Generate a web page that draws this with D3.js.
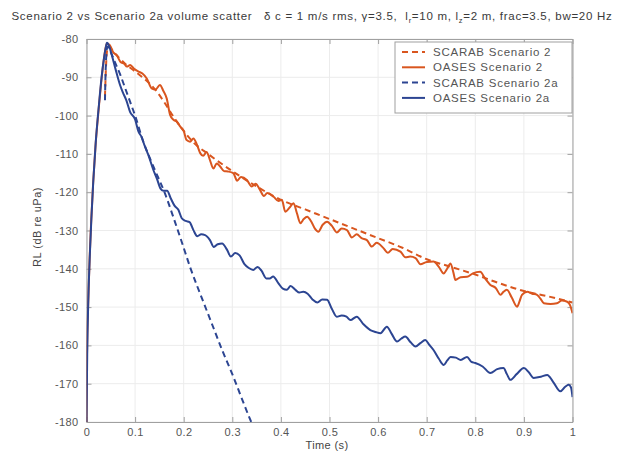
<!DOCTYPE html>
<html><head><meta charset="utf-8">
<script src="https://cdn.jsdelivr.net/npm/d3@7"></script>
<style>body{margin:0;background:#fff}svg{display:block}text{font-family:"Liberation Sans",Arial,Helvetica,sans-serif}</style>
</head><body><svg id="c" width="623" height="454"></svg>
<script>
const xTicks=[0,0.1,0.2,0.3,0.4,0.5,0.6,0.7,0.8,0.9,1];
const yTicks=[-80,-90,-100,-110,-120,-130,-140,-150,-160,-170,-180];
const seriesNames=["SCARAB Scenario 2","OASES Scenario 2","SCARAB Scenario 2a","OASES Scenario 2a"];

const oases2=[[0,-180],[0.001,-163],[0.0035,-149],[0.0065,-137],[0.0095,-128],[0.0135,-118],[0.0185,-108],[0.0245,-99],[0.0305,-91],[0.0355,-85.5],[0.0395,-82.2],[0.042,-81.2],
[0.048,-81.6],[0.055,-83.5],[0.062,-84.2],[0.07,-86],[0.078,-86.5],[0.083,-87.2],[0.09,-86.8],[0.098,-87.8],[0.107,-88.5],[0.115,-89],[0.124,-90.3],[0.134,-92.9],[0.142,-93.2],[0.151,-92],[0.158,-93.5],[0.165,-95.5],[0.172,-99.8],[0.179,-101.1],[0.186,-101.6],[0.193,-102.9],[0.2,-104],[0.206,-106.4],[0.213,-106.8],[0.22,-106],[0.227,-107.5],[0.234,-109.8],[0.24,-110.5],[0.247,-109.5],[0.254,-111.6],[0.261,-113.8],[0.268,-112.5],[0.275,-113.3],[0.283,-114.5],[0.291,-114.6],[0.302,-115],[0.31,-117],[0.318,-116],[0.33,-116.8],[0.34,-118.5],[0.348,-117.8],[0.357,-119.4],[0.365,-121],[0.372,-120.2],[0.385,-121.2],[0.395,-122.3],[0.402,-122],[0.409,-125.1],[0.418,-124],[0.426,-122.9],[0.433,-125.5],[0.44,-128.1],[0.447,-127],[0.454,-126.4],[0.463,-127.8],[0.47,-129.5],[0.477,-130.3],[0.486,-128.5],[0.495,-127.7],[0.505,-128.8],[0.515,-130.5],[0.525,-129.5],[0.536,-129.9],[0.546,-131.8],[0.556,-131],[0.566,-132],[0.577,-132.5],[0.587,-134.2],[0.597,-133.2],[0.611,-134.6],[0.62,-135.8],[0.63,-134.8],[0.646,-135.5],[0.656,-137],[0.666,-136.8],[0.677,-137.2],[0.687,-138.8],[0.7,-138.2],[0.714,-138.1],[0.725,-139.5],[0.735,-141.2],[0.742,-140],[0.749,-138.6],[0.755,-141],[0.759,-142.9],[0.77,-142.2],[0.783,-142.1],[0.795,-141.2],[0.81,-140.8],[0.82,-142.5],[0.831,-144.2],[0.842,-145],[0.852,-146.8],[0.858,-146],[0.865,-145.5],[0.875,-147.5],[0.886,-149.9],[0.891,-148.5],[0.896,-146.8],[0.907,-146],[0.917,-146.5],[0.927,-146.8],[0.934,-147.8],[0.941,-149],[0.955,-149.2],[0.968,-149],[0.978,-148.3],[0.989,-148.6],[0.995,-149.5],[1.0,-151.6]];

const scarab2=[[0.038,-95],[0.041,-85],[0.044,-82],[0.06,-84],[0.08,-86.5],[0.1,-88.5],[0.12,-90.5],[0.14,-93],[0.16,-96.5],[0.18,-100.5],[0.2,-104],[0.22,-107],[0.25,-110],[0.3,-114.5],[0.35,-118.5],[0.4,-122],[0.45,-124.5],[0.5,-127],[0.55,-129.5],[0.6,-132],[0.65,-134.5],[0.7,-137.5],[0.75,-139.5],[0.8,-141.5],[0.85,-143.8],[0.9,-145.8],[0.95,-147.2],[1.0,-148.8]];

const oases2a=[[0,-180],[0.0015,-162],[0.004,-147],[0.007,-136],[0.01,-127],[0.014,-117],[0.019,-107],[0.025,-98],[0.031,-90],[0.036,-85],[0.04,-82],[0.042,-81],
[0.047,-82],[0.052,-84.2],[0.06,-88],[0.069,-92],[0.075,-94],[0.082,-96],[0.0896,-99],[0.1,-101],[0.107,-104.2],[0.113,-105.5],[0.12,-108],[0.127,-110.2],[0.1376,-114.2],[0.145,-116.5],[0.152,-119],[0.158,-119.6],[0.166,-119.6],[0.173,-121.5],[0.181,-123.5],[0.189,-124.6],[0.196,-126.8],[0.204,-127.5],[0.212,-127.8],[0.22,-129.9],[0.228,-131.5],[0.236,-131],[0.244,-131.2],[0.254,-132.5],[0.262,-134.3],[0.27,-133.6],[0.279,-133.4],[0.289,-135],[0.297,-136.8],[0.306,-135.9],[0.315,-136.5],[0.325,-138.8],[0.334,-139.8],[0.343,-140.3],[0.352,-139.5],[0.36,-140.5],[0.37,-142.5],[0.377,-142.5],[0.384,-142],[0.395,-143.8],[0.404,-145.2],[0.412,-145.5],[0.42,-144.5],[0.43,-145.5],[0.438,-146.2],[0.446,-146],[0.455,-146.5],[0.465,-148],[0.475,-148.8],[0.485,-148],[0.495,-148.1],[0.505,-150.5],[0.515,-152.5],[0.525,-152.2],[0.535,-152.5],[0.543,-153.4],[0.556,-152.5],[0.57,-154.5],[0.584,-156],[0.595,-156.5],[0.605,-156.8],[0.618,-155.1],[0.628,-157],[0.639,-159],[0.648,-158.2],[0.656,-157.7],[0.667,-159.2],[0.677,-160.3],[0.687,-159.4],[0.697,-158.6],[0.705,-159.8],[0.714,-161.2],[0.725,-163.5],[0.735,-165.1],[0.742,-164],[0.749,-163],[0.76,-163.2],[0.77,-163.8],[0.783,-163],[0.792,-164.3],[0.8,-164.6],[0.815,-165.5],[0.831,-167.2],[0.845,-166.2],[0.858,-165.9],[0.865,-167.5],[0.872,-169],[0.885,-167.5],[0.9,-165.9],[0.91,-167],[0.92,-168.5],[0.935,-168.2],[0.948,-167.7],[0.96,-169.5],[0.975,-172],[0.985,-170.8],[0.992,-170.3],[0.997,-171],[1.0,-173.5]];

const scarab2a=[[0.038,-96],[0.040,-86],[0.043,-82],[0.05,-83.5],[0.06,-86.5],[0.07,-89.5],[0.08,-93],[0.09,-96.5],[0.1,-100],[0.116,-106.5],[0.13,-111],[0.14,-114],[0.162,-120.5],[0.18,-127],[0.196,-133],[0.213,-139.5],[0.24,-148.5],[0.26,-155],[0.28,-161.5],[0.3,-167.5],[0.32,-174],[0.333,-178.2],[0.339,-180]];

const colors={orange:"#d9561f",blue:"#2c4592"};
const m={l:86.5,r:572.5,t:39,b:422};
const svg=d3.select("#c");
const x=d3.scaleLinear().domain([0,1]).range([m.l,m.r]);
const y=d3.scaleLinear().domain([-180,-80]).range([m.b,m.t]);

svg.append("defs").append("clipPath").attr("id","clip").append("rect")
 .attr("x",m.l).attr("y",m.t-2).attr("width",m.r-m.l).attr("height",m.b-m.t+2);

// grid
const g=svg.append("g");
g.selectAll(".gx").data(xTicks).join("line").attr("x1",d=>x(d)).attr("x2",d=>x(d)).attr("y1",m.t).attr("y2",m.b).attr("stroke","#ececec").attr("stroke-width",1);
g.selectAll(".gy").data(yTicks).join("line").attr("y1",d=>y(d)).attr("y2",d=>y(d)).attr("x1",m.l).attr("x2",m.r).attr("stroke","#ececec").attr("stroke-width",1);

// axes
const ax=svg.append("g").attr("transform",`translate(0,${m.b})`).call(d3.axisBottom(x).tickValues(xTicks).tickFormat(d3.format("")).tickSizeInner(-5).tickSizeOuter(0).tickPadding(6));
const ay=svg.append("g").attr("transform",`translate(${m.l},0)`).call(d3.axisLeft(y).tickValues(yTicks).tickFormat(d=>d).tickSizeInner(-5).tickSizeOuter(0).tickPadding(8));
const at=svg.append("g").attr("transform",`translate(0,${m.t})`).call(d3.axisTop(x).tickValues(xTicks).tickFormat("").tickSizeInner(-5).tickSizeOuter(0));
const ar=svg.append("g").attr("transform",`translate(${m.r},0)`).call(d3.axisRight(y).tickValues(yTicks).tickFormat("").tickSizeInner(-5).tickSizeOuter(0));
[ax,ay,at,ar].forEach(a=>{a.selectAll("path").attr("stroke","#a0a0a0");a.selectAll("line").attr("stroke","#a0a0a0");
 a.selectAll("text").attr("fill","#555").style("font-size","11px").style("letter-spacing","0.4px").style("font-family","'Liberation Sans',Arial,sans-serif");});

// lines
const smooth=d3.line().x(d=>x(d[0])).y(d=>y(d[1])).curve(d3.curveMonotoneX);
const pg=svg.append("g").attr("clip-path","url(#clip)");
const series=[
 {d:scarab2,c:colors.orange,dash:"6,4"},
 {d:oases2,c:colors.orange,dash:null},
 {d:scarab2a,c:colors.blue,dash:"6,4"},
 {d:oases2a,c:colors.blue,dash:null}];
const drawOrder=[1,0,3,2];
drawOrder.forEach(i=>{const s=series[i];
 pg.append("path").datum(s.d).attr("d",smooth).attr("fill","none").attr("stroke",s.c).attr("stroke-width",2)
  .attr("stroke-dasharray",s.dash).attr("stroke-linejoin","round");});

// title
const title=svg.append("text").attr("x",312).attr("y",20).attr("text-anchor","middle").attr("fill","#3a3a3a").style("font-size","11.5px").style("white-space","pre")
 .html('Scenario 2 vs Scenario 2a volume scatter   \u03b4 c = 1 m/s rms, \u03b3=3.5,  l<tspan dy="3" font-size="7.5">r</tspan><tspan dy="-3">=10 m, l</tspan><tspan dy="3" font-size="7.5">z</tspan><tspan dy="-3">=2 m, frac=3.5, bw=20 Hz</tspan>');
const tw=title.node().getComputedTextLength();
const nch=title.text().length;
title.style("letter-spacing",((601-tw)/nch)+"px");

// axis labels
svg.append("text").attr("x",327).attr("y",449).attr("text-anchor","middle").attr("fill","#444").style("font-size","11px").style("letter-spacing","0.4px").text("Time (s)");
svg.append("text").attr("transform","translate(41,227) rotate(-90)").attr("text-anchor","middle").attr("fill","#444").style("font-size","11px").style("letter-spacing","0.5px").text("RL (dB re uPa)");

// legend
const lg=svg.append("g");
lg.append("rect").attr("x",395).attr("y",42).attr("width",177).attr("height",71).attr("fill","#fff").attr("stroke","#a0a0a0").attr("stroke-width",1);
seriesNames.forEach((n,i)=>{const s=series[i];const yy=52+i*15.3;
 lg.append("line").attr("x1",402).attr("x2",425).attr("y1",yy).attr("y2",yy).attr("stroke",s.c).attr("stroke-width",2).attr("stroke-dasharray",s.dash);
 lg.append("text").attr("x",433).attr("y",yy+4).attr("fill","#555").style("font-size","11.5px").style("letter-spacing","0.75px").text(n);});
</script></body></html>
